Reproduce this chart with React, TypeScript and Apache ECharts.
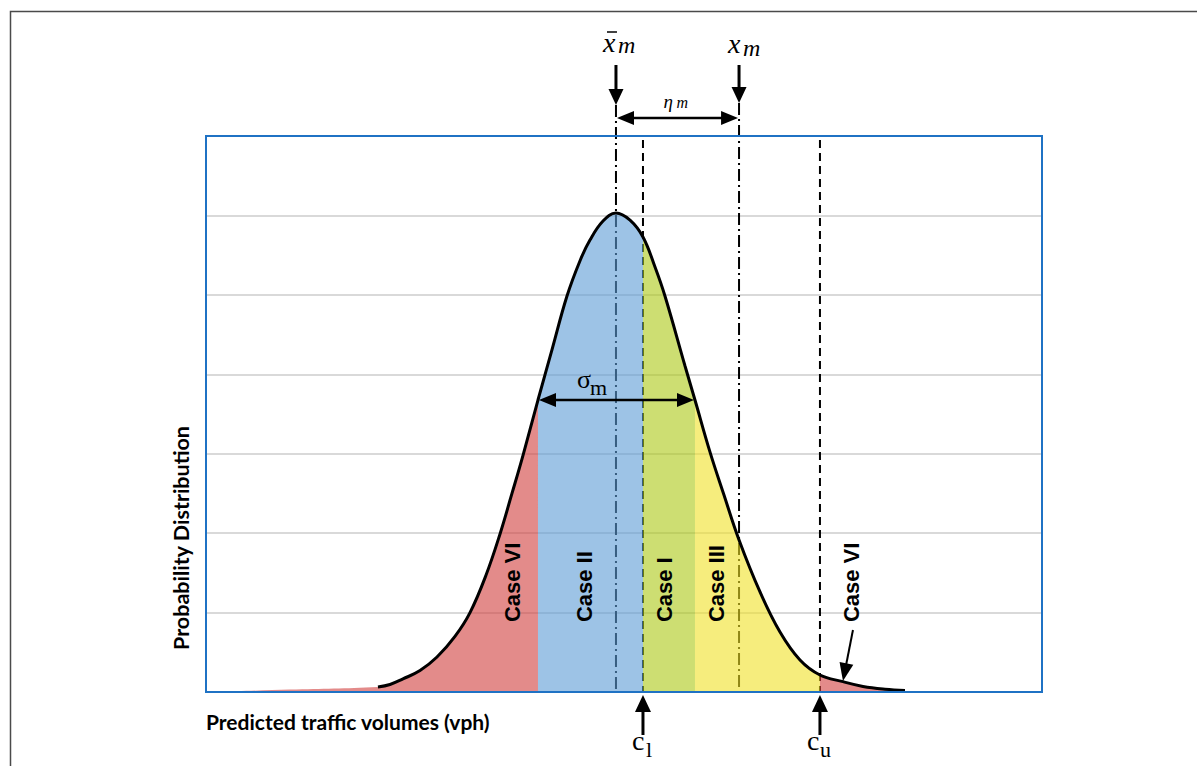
import React, { useEffect, useRef } from "react";
import * as echarts from "echarts";

// Curve (probability density)
const CURVE_X = [20.57, 22.01, 23.56, 25.6, 27.63, 29.78, 31.58, 33.49, 35.17, 36.6, 37.92, 39.71, 41.39, 43.18, 44.74, 45.93, 47.49, 49.04, 50.72, 52.27, 53.71, 54.9, 57.3, 58.49, 60.29, 61.96, 63.76, 66.27, 68.66, 71.05, 73.44, 76.2, 78.59, 81.22, 83.61];
const CURVE_Y = [0.063, 0.095, 0.165, 0.27, 0.44, 0.7, 1.0, 1.47, 1.99, 2.5, 2.98, 3.676, 4.31, 4.985, 5.43, 5.69, 5.93, 6.03, 5.94, 5.728, 5.35, 4.985, 4.104, 3.676, 3.02, 2.48, 1.914, 1.26, 0.755, 0.403, 0.214, 0.13, 0.07, 0.035, 0.019];
// faint lower tail (fill only)
const TAIL_X = [0, 10, 20.57];
const TAIL_Y = [0, 0.03, 0.063];

const CASE_BOUNDS = [20.57, 39.71, 52.27, 58.49, 73.44, 83.61];
const CASE_COLORS = [
  "rgba(208,62,60,0.6)",
  "rgba(92,155,213,0.6)",
  "rgba(172,200,20,0.6)",
  "rgba(240,225,38,0.6)",
  "rgba(208,62,60,0.6)",
];
const CASE_LABELS = ["Case VI", "Case II", "Case I", "Case III", "Case VI"];
const CASE_LABEL_X = [36.72, 45.33, 54.9, 61.12, 77.27];
const CASE_LABEL_Y = 0.88;

const MEAN_X = 49.04;
const CL_X = 52.27;
const XM_X = 63.76;
const CU_X = 73.44;
const SIGMA_L = 39.71;
const SIGMA_R = 58.49;
const SIGMA_Y = 3.676;

const X_MIN = 0;
const X_MAX = 100;
const Y_MIN = 0;
const Y_MAX = 7;
const Y_STEP = 1;

const X_TITLE = "Predicted traffic volumes (vph)";
const Y_TITLE = "Probability Distribution";

function arrowHead(tx: number, ty: number, ux: number, uy: number, hl: number, hw: number, z: number) {
  const bx = tx - ux * hl;
  const by = ty - uy * hl;
  const px = -uy;
  const py = ux;
  return {
    type: "polygon",
    z,
    silent: true,
    shape: {
      points: [
        [tx, ty],
        [bx + (px * hw) / 2, by + (py * hw) / 2],
        [bx - (px * hw) / 2, by - (py * hw) / 2],
      ],
    },
    style: { fill: "#000", stroke: "none" },
  };
}

function arrow(x1: number, y1: number, x2: number, y2: number, lw: number, hl: number, hw: number, z = 20) {
  const dx = x2 - x1;
  const dy = y2 - y1;
  const len = Math.sqrt(dx * dx + dy * dy);
  const ux = dx / len;
  const uy = dy / len;
  return [
    {
      type: "line",
      z,
      silent: true,
      shape: { x1, y1, x2: x2 - ux * (hl - 2), y2: y2 - uy * (hl - 2) },
      style: { stroke: "#000", lineWidth: lw },
    },
    arrowHead(x2, y2, ux, uy, hl, hw, z),
  ];
}

function doubleArrow(x1: number, y1: number, x2: number, y2: number, lw: number, hl: number, hw: number, z = 20) {
  const dx = x2 - x1;
  const dy = y2 - y1;
  const len = Math.sqrt(dx * dx + dy * dy);
  const ux = dx / len;
  const uy = dy / len;
  return [
    {
      type: "line",
      z,
      silent: true,
      shape: { x1: x1 + ux * (hl - 2), y1: y1 + uy * (hl - 2), x2: x2 - ux * (hl - 2), y2: y2 - uy * (hl - 2) },
      style: { stroke: "#000", lineWidth: lw },
    },
    arrowHead(x2, y2, ux, uy, hl, hw, z),
    arrowHead(x1, y1, -ux, -uy, hl, hw, z),
  ];
}

function txt(x: number, y: number, text: string, opts: any = {}) {
  const { rotation, z, ...style } = opts;
  return {
    type: "text",
    x,
    y,
    rotation: rotation || 0,
    z: z || 20,
    silent: true,
    style: {
      text,
      fill: "#000",
      textAlign: "left",
      textVerticalAlign: "middle",
      align: "left",
      verticalAlign: "middle",
      ...style,
    },
  };
}

export default function App() {
  const ref = useRef<HTMLDivElement>(null);

  useEffect(() => {
    if (!ref.current) return;
    const chart = echarts.init(ref.current, undefined, { renderer: "svg" });

    const curve = CURVE_X.map((x, i) => [x, CURVE_Y[i]]);
    const tail = TAIL_X.map((x, i) => [x, TAIL_Y[i]]);

    const regionSeries = CASE_COLORS.map((color, i) => {
      const lo = CASE_BOUNDS[i];
      const hi = CASE_BOUNDS[i + 1];
      let data = curve.filter((p) => p[0] >= lo - 1e-9 && p[0] <= hi + 1e-9);
      if (i === 0) data = tail.slice(0, tail.length - 1).concat(data);
      return {
        type: "line",
        data,
        smooth: 0.4,
        symbol: "none",
        silent: true,
        z: 3,
        lineStyle: { width: 0, opacity: 0 },
        areaStyle: { color, opacity: 1 },
      };
    });

    chart.setOption({
      animation: false,
      backgroundColor: "#fff",
      grid: {
        left: 206,
        top: 136,
        width: 836,
        height: 556,
        show: false,
      },
      xAxis: {
        type: "value",
        min: X_MIN,
        max: X_MAX,
        axisLine: { show: false },
        axisTick: { show: false },
        axisLabel: { show: false },
        splitLine: { show: false },
      },
      yAxis: {
        type: "value",
        min: Y_MIN,
        max: Y_MAX,
        interval: Y_STEP,
        axisLine: { show: false },
        axisTick: { show: false },
        axisLabel: { show: false },
        splitLine: { show: true, lineStyle: { color: "#d9d9d9", width: 2 } },
      },
      series: [
        ...regionSeries,
        {
          type: "line",
          data: curve,
          smooth: 0.4,
          symbol: "none",
          silent: true,
          z: 5,
          lineStyle: { color: "#000", width: 3 },
        },
      ],
    });

    const P = (x: number, y: number) => chart.convertToPixel({ gridIndex: 0 }, [x, y]) as number[];
    const meanP = P(MEAN_X, Y_MIN);
    const clP = P(CL_X, Y_MIN);
    const xmP = P(XM_X, Y_MIN);
    const cuP = P(CU_X, Y_MIN);
    const sL = P(SIGMA_L, SIGMA_Y);
    const sR = P(SIGMA_R, SIGMA_Y);
    const tl = P(X_MIN, Y_MAX);
    const br = P(X_MAX, Y_MIN);
    const bottom = br[1];
    const top = tl[1];
    const mid = (meanP[0] + xmP[0]) / 2;

    const dashDot = [12, 4, 2, 4];
    const dashed = [8, 5];
    const vline = (x: number, y1: number, dash: number[]) => ({
      type: "line",
      z: 1,
      silent: true,
      shape: { x1: x, y1, x2: x, y2: bottom },
      style: { stroke: "#000", lineWidth: 2, lineDash: dash },
    });

    const serif = "Liberation Serif";
    const graphics: any[] = [
      // outer frame
      {
        type: "polyline",
        z: 0,
        silent: true,
        shape: { points: [[10.5, 766], [10.5, 11.5], [1197, 11.5]] },
        style: { stroke: "#4a4a4a", lineWidth: 1.5, fill: "none" },
      },
      // plot box
      {
        type: "rect",
        z: 10,
        silent: true,
        shape: { x: tl[0], y: tl[1], width: br[0] - tl[0], height: br[1] - tl[1] },
        style: { stroke: "#1f72c4", lineWidth: 2, fill: "none" },
      },
      vline(meanP[0], top - 31, dashDot),
      vline(xmP[0], top - 33, dashDot),
      vline(clP[0], top + 4, dashed),
      vline(cuP[0], top + 4, dashed),
      ...arrow(meanP[0], top - 71, meanP[0], top - 31, 3, 16, 15),
      ...arrow(xmP[0], top - 71, xmP[0], top - 33, 3, 16, 15),
      ...doubleArrow(meanP[0] + 1, top - 18, xmP[0] - 1, top - 18, 2.5, 17, 14),
      ...doubleArrow(sL[0] + 1, sL[1], sR[0] - 1, sR[1], 2.5, 17, 14),
      ...arrow(clP[0], bottom + 43, clP[0], bottom + 3, 3, 17, 16),
      ...arrow(cuP[0], bottom + 43, cuP[0], bottom + 3, 3, 17, 16),
      // labels: mean
      txt(meanP[0] - 13, top - 94, "x", { fontFamily: serif, fontStyle: "italic", fontSize: 28 }),
      {
        type: "line",
        z: 20,
        silent: true,
        shape: { x1: meanP[0] - 9, y1: top - 104, x2: meanP[0] + 1, y2: top - 104 },
        style: { stroke: "#000", lineWidth: 1.5 },
      },
      txt(meanP[0] + 2, top - 91, "m", { fontFamily: serif, fontStyle: "italic", fontSize: 24 }),
      // x_m
      txt(xmP[0] - 11, top - 93, "x", { fontFamily: serif, fontStyle: "italic", fontSize: 28 }),
      txt(xmP[0] + 4, top - 88, "m", { fontFamily: serif, fontStyle: "italic", fontSize: 24 }),
      // eta_m
      txt(mid - 14, top - 35, "η", { fontFamily: serif, fontStyle: "italic", fontSize: 19 }),
      txt(mid - 1, top - 34, "m", { fontFamily: serif, fontStyle: "italic", fontSize: 16 }),
      // sigma_m
      txt(sL[0] + 39, sL[1] - 21, "σ", { fontFamily: serif, fontSize: 26 }),
      txt(sL[0] + 52, sL[1] - 13, "m", { fontFamily: serif, fontSize: 22 }),
      // c_l, c_u
      txt(clP[0] - 11, bottom + 48, "c", { fontFamily: serif, fontSize: 28 }),
      txt(clP[0] + 3, bottom + 57, "l", { fontFamily: serif, fontSize: 22 }),
      txt(cuP[0] - 13, bottom + 48, "c", { fontFamily: serif, fontSize: 28 }),
      txt(cuP[0], bottom + 57, "u", { fontFamily: serif, fontSize: 22 }),
      // Case VI arrow (right)
      ...arrow(cuP[0] + 33, bottom - 62, cuP[0] + 23, bottom - 11, 2, 18, 14),
      // axis titles
      txt(tl[0], 721, X_TITLE, { fontFamily: "Lato", fontWeight: "bold", fontSize: 21 }),
      txt(181, 538, Y_TITLE, {
        fontFamily: "Lato",
        fontWeight: "bold",
        fontSize: 21.5,
        rotation: Math.PI / 2,
        textAlign: "center",
        align: "center",
      }),
    ];

    CASE_LABELS.forEach((label, i) => {
      const p = P(CASE_LABEL_X[i], CASE_LABEL_Y);
      graphics.push(
        txt(p[0], p[1], label, {
          fontFamily: "Liberation Sans",
          fontWeight: "bold",
          fontSize: 22,
          rotation: Math.PI / 2,
        })
      );
    });

    chart.setOption({ graphic: { elements: graphics } });

    return () => chart.dispose();
  }, []);

  return (
    <div
      ref={ref}
      style={{ position: "fixed", left: 0, top: 0, width: 1197, height: 766, background: "#fff" }}
    />
  );
}
